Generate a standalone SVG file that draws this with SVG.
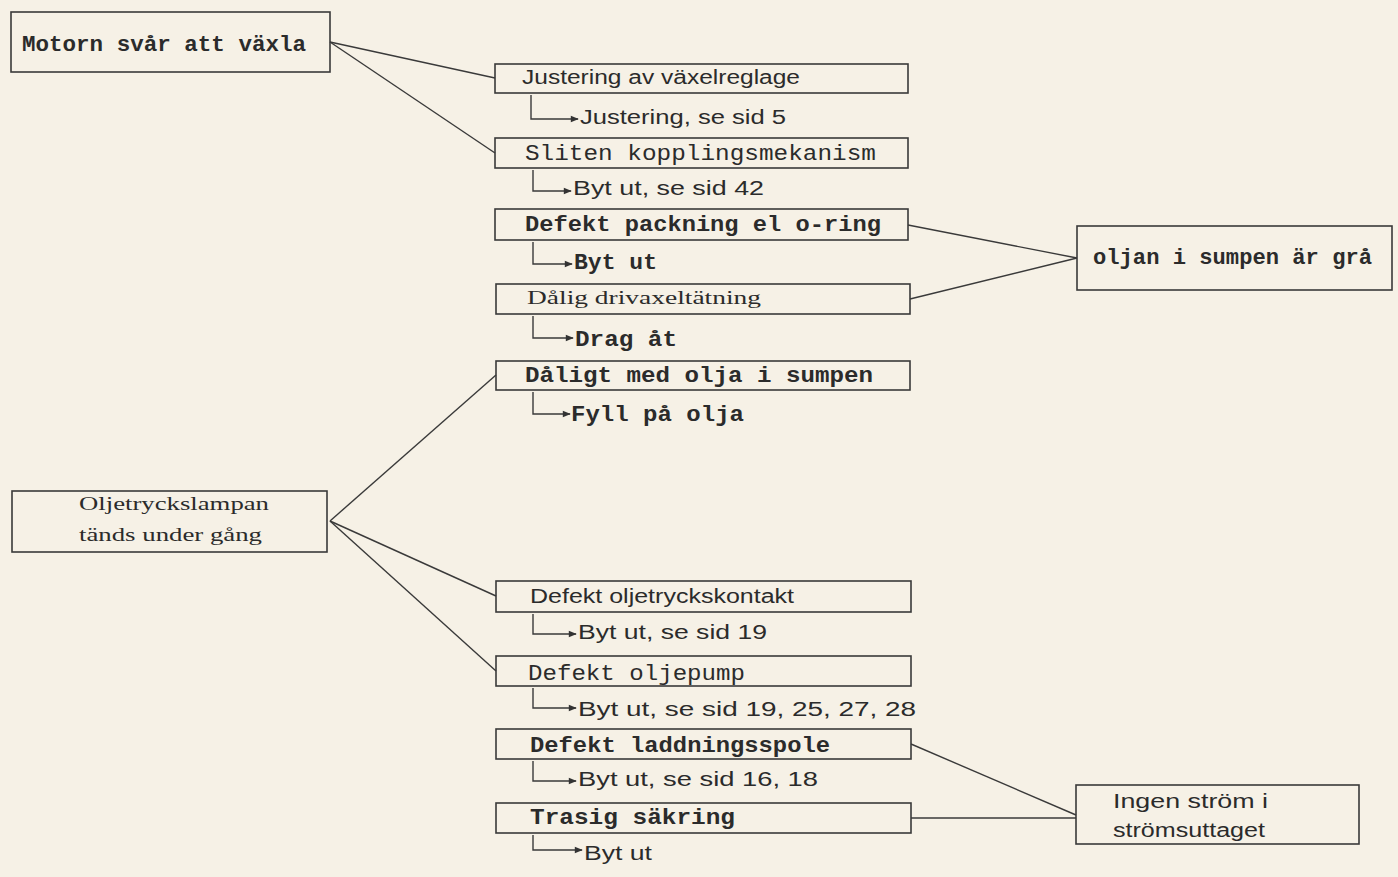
<svg xmlns="http://www.w3.org/2000/svg" width="1398" height="877" viewBox="0 0 1398 877">
<defs>
<marker id="ah" viewBox="0 0 10 10" refX="9" refY="5" markerWidth="9" markerHeight="8" orient="auto" markerUnits="userSpaceOnUse">
<path d="M0,1 L10,5 L0,9 Z" fill="#333"/>
</marker>
</defs>
<style>
.box{fill:none;stroke:#3a3a3a;stroke-width:1.6}
.ln{fill:none;stroke:#3a3a3a;stroke-width:1.4}
.sub{fill:none;stroke:#3a3a3a;stroke-width:1.4;marker-end:url(#ah)}
.mono{font-family:"Liberation Mono",monospace;font-size:22px;fill:#2b2b2b}
.monob{font-family:"Liberation Mono",monospace;font-size:22px;font-weight:bold;fill:#2b2b2b}
.sans{font-family:"Liberation Sans",sans-serif;font-size:20px;fill:#2b2b2b}
.serif{font-family:"Liberation Serif",serif;font-size:19px;fill:#2b2b2b}
</style>
<rect width="1398" height="877" fill="#f6f1e6"/>

<g id="connectors">
<line class="ln" x1="330" y1="42" x2="495" y2="78"/>
<line class="ln" x1="330" y1="42" x2="495" y2="153"/>
<line class="ln" x1="330" y1="521" x2="496" y2="375"/>
<line class="ln" x1="330" y1="521" x2="496" y2="596"/>
<line class="ln" x1="330" y1="521" x2="496" y2="671"/>
<line class="ln" x1="908" y1="225" x2="1077" y2="258"/>
<line class="ln" x1="910" y1="299" x2="1077" y2="258"/>
<line class="ln" x1="911" y1="744" x2="1076" y2="815"/>
<line class="ln" x1="911" y1="818" x2="1076" y2="818"/>
<polyline class="sub" points="531,95 531,119 578,119"/>
<polyline class="sub" points="533,170 533,191 571,191"/>
<polyline class="sub" points="533,242 533,264 572,264"/>
<polyline class="sub" points="533,316 533,338 573,338"/>
<polyline class="sub" points="533,392 533,414 570,414"/>
<polyline class="sub" points="533,614 533,634 576,634"/>
<polyline class="sub" points="533,688 533,708 576,708"/>
<polyline class="sub" points="533,761 533,781 576,781"/>
<polyline class="sub" points="533,835 533,850 582,850"/>
</g>

<g id="n-motor">
<rect class="box" x="11" y="12" width="319" height="60"/>
<text class="monob" x="22" y="51" textLength="284" lengthAdjust="spacingAndGlyphs">Motorn svår att växla</text>
</g>
<g id="n-oljetryck">
<rect class="box" x="12" y="491" width="315" height="61"/>
<text class="serif" x="79" y="510" textLength="190" lengthAdjust="spacingAndGlyphs">Oljetryckslampan</text>
<text class="serif" x="79" y="541" textLength="183" lengthAdjust="spacingAndGlyphs">tänds under gång</text>
</g>
<g id="n-grå">
<rect class="box" x="1077" y="226" width="315" height="64"/>
<text class="monob" x="1093" y="264" textLength="279" lengthAdjust="spacingAndGlyphs">oljan i sumpen är grå</text>
</g>
<g id="n-ström">
<rect class="box" x="1076" y="785" width="283" height="59"/>
<text class="sans" x="1113" y="808" textLength="155" lengthAdjust="spacingAndGlyphs">Ingen ström i</text>
<text class="sans" x="1113" y="837" textLength="152" lengthAdjust="spacingAndGlyphs">strömsuttaget</text>
</g>

<g id="n-justering">
<rect class="box" x="495" y="64" width="413" height="29"/>
<text class="sans" x="522" y="84" textLength="278" lengthAdjust="spacingAndGlyphs">Justering av växelreglage</text>
<text class="sans" x="580" y="124" textLength="206" lengthAdjust="spacingAndGlyphs">Justering, se sid 5</text>
</g>
<g id="n-sliten">
<rect class="box" x="495" y="138" width="413" height="30"/>
<text class="mono" x="525" y="160" textLength="351" lengthAdjust="spacingAndGlyphs">Sliten kopplingsmekanism</text>
<text class="sans" x="573" y="195" textLength="191" lengthAdjust="spacingAndGlyphs">Byt ut, se sid 42</text>
</g>
<g id="n-packning">
<rect class="box" x="495" y="209" width="413" height="31"/>
<text class="monob" x="525" y="231" textLength="356" lengthAdjust="spacingAndGlyphs">Defekt packning el o-ring</text>
<text class="monob" x="574" y="269" textLength="83" lengthAdjust="spacingAndGlyphs">Byt ut</text>
</g>
<g id="n-drivaxel">
<rect class="box" x="496" y="284" width="414" height="30"/>
<text class="serif" x="527" y="304" textLength="234" lengthAdjust="spacingAndGlyphs">Dålig drivaxeltätning</text>
<text class="monob" x="575" y="346" textLength="102" lengthAdjust="spacingAndGlyphs">Drag åt</text>
</g>
<g id="n-daligt">
<rect class="box" x="496" y="361" width="414" height="29"/>
<text class="monob" x="525" y="382" textLength="348" lengthAdjust="spacingAndGlyphs">Dåligt med olja i sumpen</text>
<text class="monob" x="571" y="421" textLength="173" lengthAdjust="spacingAndGlyphs">Fyll på olja</text>
</g>
<g id="n-kontakt">
<rect class="box" x="496" y="581" width="415" height="31"/>
<text class="sans" x="530" y="603" textLength="264" lengthAdjust="spacingAndGlyphs">Defekt oljetryckskontakt</text>
<text class="sans" x="578" y="639" textLength="189" lengthAdjust="spacingAndGlyphs">Byt ut, se sid 19</text>
</g>
<g id="n-pump">
<rect class="box" x="496" y="656" width="415" height="30"/>
<text class="mono" x="528" y="680" textLength="217" lengthAdjust="spacingAndGlyphs">Defekt oljepump</text>
<text class="sans" x="578" y="716" textLength="338" lengthAdjust="spacingAndGlyphs">Byt ut, se sid 19, 25, 27, 28</text>
</g>
<g id="n-spole">
<rect class="box" x="496" y="729" width="415" height="30"/>
<text class="monob" x="530" y="752" textLength="300" lengthAdjust="spacingAndGlyphs">Defekt laddningsspole</text>
<text class="sans" x="578" y="786" textLength="240" lengthAdjust="spacingAndGlyphs">Byt ut, se sid 16, 18</text>
</g>
<g id="n-sakring">
<rect class="box" x="496" y="803" width="415" height="30"/>
<text class="monob" x="530" y="824" textLength="205" lengthAdjust="spacingAndGlyphs">Trasig säkring</text>
<text class="sans" x="584" y="860" textLength="68" lengthAdjust="spacingAndGlyphs">Byt ut</text>
</g>
</svg>
